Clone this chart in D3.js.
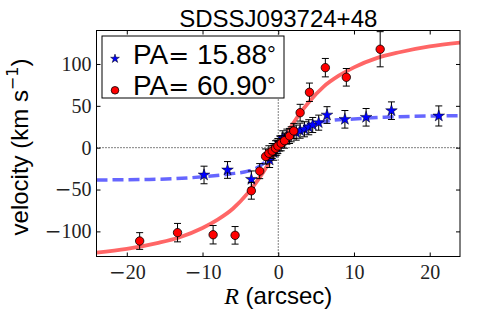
<!DOCTYPE html>
<html>
<head>
<meta charset="utf-8">
<script src="https://cdn.jsdelivr.net/npm/d3@7"></script>
<style>
  html, body { margin: 0; padding: 0; background: #fff; }
  svg { display: block; }
</style>
</head>
<body>
<svg id="chart" width="485" height="323"></svg>
<script>
/* ── DATA ───────────────────────────────────────── */
const xTicks = [-20, -10, 0, 10, 20];
const yTicks = [-100, -50, 0, 50, 100];

// PA = 15.88 (blue stars): [R, v, err]
const starR   = [-9.8, -6.7, -3.55, -1.14, -0.6, -0.2, 0.2, 0.6, 1.14, 1.71, 2.37, 2.89, 3.46, 4.03, 4.55, 5.34, 6.44, 8.8, 11.6, 14.95, 21.2];
const starV   = [-32.6, -26.6, -37.8, -14.7, -6, 0, 5, 11.2, 13.2, 16, 18, 20.3, 22, 24.4, 27.1, 29.9, 39, 33.9, 36.3, 44.2, 37.9];
const starErr = [10.5, 10, 10, 9, 9, 9, 9, 9, 9, 9, 9, 9, 9, 9, 9, 9, 10, 10.5, 10.5, 10.5, 12];

// PA = 60.90 (red circles)
const dotR   = [-18.3, -13.3, -8.6, -5.7, -3.55, -2.45, -1.67, -1.24, -0.8, -0.36, -0.05, 0.39, 0.83, 1.49, 2.05, 2.89, 4.12, 6.22, 8.99, 13.46];
const dotV   = [-111.5, -101.5, -104, -104.7, -51.5, -28, -10.5, -6.7, -4, -0.7, 2, 5.3, 8.4, 14, 20, 41.8, 66.2, 95.6, 84.1, 117.6];
const dotErr = [10, 11, 11, 10.5, 10, 9, 9, 9, 9, 9, 9, 9, 9, 9, 9, 10, 11, 11, 10.5, 21];

// fitted curves
const redCurveR = [-24, -20, -16, -13, -10, -8, -6, -4, -3, -2, -1, 0, 1, 2, 3, 4, 6, 8, 10, 13, 16, 20, 24];
const redCurveV = [-125.5, -121, -114, -107, -96, -86, -73, -54, -42.5, -29.5, -15, 0, 15, 29.5, 42.5, 54, 73, 86, 96, 107, 114, 121, 125.5];
const blueCurveR = [-24, -18, -14, -10, -6.4, -4, -3, -2, -1, 0, 1, 2, 3, 4, 5, 6.75, 9.4, 14, 18, 24];
const blueCurveV = [-38.6, -38, -37.2, -34.8, -31.4, -28, -25, -19, -10, 0, 10, 18, 23.5, 27, 29.5, 32.3, 34, 36.5, 37.5, 38.2];

/* ── LAYOUT ─────────────────────────────────────── */
const L = 96.5, R = 460, T = 30.5, B = 256.5;

const svg = d3.select('#chart');
const x = d3.scaleLinear().domain([-24, 24]).range([L, R]);
const y = d3.scaleLinear().domain([-130, 140]).range([B, T]);

svg.append('clipPath').attr('id', 'clip')
  .append('rect').attr('x', L).attr('y', T).attr('width', R - L).attr('height', B - T);

const plot = svg.append('g').attr('clip-path', 'url(#clip)');

// zero lines
plot.append('line').attr('x1', L).attr('x2', R).attr('y1', y(0)).attr('y2', y(0))
  .attr('stroke', '#000').attr('stroke-width', 1).attr('stroke-dasharray', '1,2');
plot.append('line').attr('x1', x(0)).attr('x2', x(0)).attr('y1', T).attr('y2', B)
  .attr('stroke', '#000').attr('stroke-width', 1).attr('stroke-dasharray', '1,2');

// curves
const line = d3.line().x(d => x(d[0])).y(d => y(d[1])).curve(d3.curveMonotoneX);
plot.append('path').datum(d3.zip(blueCurveR, blueCurveV)).attr('d', line)
  .attr('fill', 'none').attr('stroke', 'rgba(0,0,255,0.6)').attr('stroke-width', 3.5)
  .attr('stroke-dasharray', '11,5');
plot.append('path').datum(d3.zip(redCurveR, redCurveV)).attr('d', line)
  .attr('fill', 'none').attr('stroke', 'rgba(255,0,0,0.6)').attr('stroke-width', 3.8);

// error bars + markers
function errorBars(g, xs, vs, es) {
  xs.forEach((r, i) => {
    const cx = x(r), y1 = y(vs[i] - es[i]), y2 = y(vs[i] + es[i]);
    g.append('line').attr('x1', cx).attr('x2', cx).attr('y1', y1).attr('y2', y2);
    g.append('line').attr('x1', cx - 3.5).attr('x2', cx + 3.5).attr('y1', y1).attr('y2', y1);
    g.append('line').attr('x1', cx - 3.5).attr('x2', cx + 3.5).attr('y1', y2).attr('y2', y2);
  });
}

const starSym = d3.symbol().type(d3.symbolStar).size(42);
const blueG = plot.append('g');
errorBars(blueG.append('g').attr('stroke', '#000').attr('stroke-width', 1), starR, starV, starErr);
blueG.selectAll('path.star').data(d3.zip(starR, starV)).enter().append('path')
  .attr('class', 'star').attr('d', starSym)
  .attr('transform', d => 'translate(' + x(d[0]) + ',' + y(d[1]) + ')')
  .attr('fill', '#0000ff').attr('stroke', '#000').attr('stroke-width', 0.5);

const redG = plot.append('g');
errorBars(redG.append('g').attr('stroke', '#000').attr('stroke-width', 1), dotR, dotV, dotErr);
redG.selectAll('circle').data(d3.zip(dotR, dotV)).enter().append('circle')
  .attr('cx', d => x(d[0])).attr('cy', d => y(d[1])).attr('r', 4.2)
  .attr('fill', '#ff0000').attr('stroke', '#000').attr('stroke-width', 0.8);

/* ── AXES ───────────────────────────────────────── */
function mathLabels(g) {
  g.selectAll('.tick text').each(function(d) {
    const t = d3.select(this).text('');
    if (d < 0) t.append('tspan').attr('font-family', 'DejaVu Serif').attr('font-weight', 300).text('\u2212');
    t.append('tspan').text(Math.abs(d));
  });
}

const axStyle = g => {
  g.select('.domain').remove();
  g.selectAll('.tick line').attr('stroke', '#000').attr('stroke-width', 1);
  g.selectAll('.tick text').attr('fill', '#222')
    .attr('font-family', '"Liberation Serif", serif').attr('font-size', 20);
};

svg.append('g').attr('transform', 'translate(0,' + B + ')')
  .call(d3.axisBottom(x).tickValues(xTicks).tickSize(-4).tickPadding(8))
  .call(axStyle).call(mathLabels);
svg.append('g').attr('transform', 'translate(0,' + T + ')')
  .call(d3.axisTop(x).tickValues(xTicks).tickSize(-4).tickFormat(''))
  .call(axStyle);
svg.append('g').attr('transform', 'translate(' + L + ',0)')
  .call(d3.axisLeft(y).tickValues(yTicks).tickSize(-4).tickPadding(5))
  .call(axStyle).call(mathLabels);
svg.append('g').attr('transform', 'translate(' + R + ',0)')
  .call(d3.axisRight(y).tickValues(yTicks).tickSize(-4).tickFormat(''))
  .call(axStyle);

svg.append('rect').attr('x', L).attr('y', T).attr('width', R - L).attr('height', B - T)
  .attr('fill', 'none').attr('stroke', '#000').attr('stroke-width', 1);

/* ── TEXT ───────────────────────────────────────── */
const sans = '"Liberation Sans", Arial, sans-serif';

svg.append('text').attr('x', (L + R) / 2).attr('y', 26.5).attr('text-anchor', 'middle')
  .attr('font-family', sans).attr('font-size', 24).text('SDSSJ093724+48');

const xl = svg.append('text').attr('x', (L + R) / 2).attr('y', 304).attr('text-anchor', 'middle')
  .attr('font-family', sans).attr('font-size', 24);
xl.append('tspan').attr('font-family', '"Liberation Serif", serif').attr('font-style', 'italic').text('R');
xl.append('tspan').text(' (arcsec)');

const yl = svg.append('text').attr('transform', 'translate(28,147) rotate(-90)')
  .attr('text-anchor', 'middle').attr('font-family', sans).attr('font-size', 24);
yl.append('tspan').text('velocity (km s');
yl.append('tspan').attr('dy', -10).attr('font-size', 16).attr('font-family', 'DejaVu Sans').text('\u22121');
yl.append('tspan').attr('dy', 10).text(')');

/* ── LEGEND ─────────────────────────────────────── */
const legend = svg.append('g');
legend.append('rect').attr('x', 102).attr('y', 36).attr('width', 182).attr('height', 62)
  .attr('fill', '#fff').attr('stroke', '#000').attr('stroke-width', 1);
legend.append('path').attr('d', d3.symbol().type(d3.symbolStar).size(24))
  .attr('transform', 'translate(115,58.7)')
  .attr('fill', '#0000ff').attr('stroke', '#000').attr('stroke-width', 0.5);
legend.append('circle').attr('cx', 115).attr('cy', 90.3).attr('r', 3.8)
  .attr('fill', '#ff0000').attr('stroke', '#000').attr('stroke-width', 0.8);

const legendLabels = ['15.88', '60.90'];
[64, 95].forEach((by, i) => {
  const t = legend.append('text').attr('x', 133).attr('y', by)
    .attr('font-family', sans).attr('font-size', 28);
  t.append('tspan').text('PA');
  t.append('tspan').attr('font-family', 'DejaVu Serif').attr('font-size', 25).text('=');
  t.append('tspan').text(' ' + legendLabels[i]);
  t.append('tspan').attr('font-size', 22).attr('dy', -2).text('°');
});
</script>
</body>
</html>
